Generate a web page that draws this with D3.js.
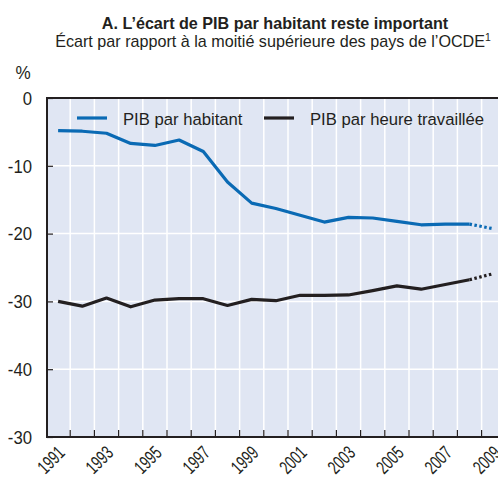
<!DOCTYPE html>
<html>
<head>
<meta charset="utf-8">
<script src="https://cdn.jsdelivr.net/npm/d3@7"></script>
<style>
  body { margin: 0; background: #fff; }
  text { font-family: "Liberation Sans", Arial, sans-serif; fill: #231f20; }
</style>
</head>
<body>
<div id="chart"></div>
<script>
// data
const years = [1991, 1992, 1993, 1994, 1995, 1996, 1997, 1998, 1999, 2000,
               2001, 2002, 2003, 2004, 2005, 2006, 2007, 2008, 2009];
const pibHabitant = [-4.8, -4.9, -5.2, -6.7, -7.0, -6.2, -7.9, -12.4, -15.5, -16.3,
                     -17.3, -18.3, -17.6, -17.7, -18.2, -18.7, -18.6, -18.6, -19.3];
const pibHeure = [-30.0, -30.7, -29.5, -30.8, -29.8, -29.6, -29.6, -30.6, -29.7, -29.9,
                  -29.1, -29.1, -29.05, -28.4, -27.7, -28.2, -27.5, -26.8, -25.9];
const lastActual = 2008; // 2009 drawn dotted (projection)
const yTicks = [0, -10, -20, -30, -40, -50];
const yTickLabels = ["0", "-10", "-20", "-30", "-40", "-30"];
const xLabelYears = [1991, 1993, 1995, 1997, 1999, 2001, 2003, 2005, 2007, 2009];
const seriesNames = ["PIB par habitant", "PIB par heure travaillée"];
const seriesColors = ["#0a6ab4", "#231f20"];

const width = 498, height = 479;
const plot = { left: 47, top: 98, right: 498, bottom: 437 };

const svg = d3.select("#chart").append("svg")
    .attr("width", width)
    .attr("height", height);

// condensed look: squeeze text horizontally
function place(sel, x, y, sx, extra) {
    return sel.attr("transform", "translate(" + x + "," + y + ")" + (extra || "") + " scale(" + sx + ",1)");
}

// titles
place(svg.append("text"), 275, 29, 0.95)
    .attr("text-anchor", "middle")
    .style("font-weight", "bold").style("font-size", "17px")
    .text("A. L\u2019écart de PIB par habitant reste important");
const sub = place(svg.append("text"), 273, 47, 0.95)
    .attr("text-anchor", "middle")
    .style("font-size", "17px")
    .text("Écart par rapport à la moitié supérieure des pays de l\u2019OCDE");
sub.append("tspan").attr("dy", -6).style("font-size", "11px").text("1");

place(svg.append("text"), 23, 79, 0.9)
    .attr("text-anchor", "middle")
    .style("font-size", "19px")
    .text("%");

// scales
const x = d3.scaleBand()
    .domain(years)
    .range([46, 46 + 24.2 * years.length]);
const xc = d => x(d) + x.bandwidth() / 2;
const y = d3.scaleLinear()
    .domain([-50, 0])
    .range([plot.bottom, plot.top]);

// background
svg.append("rect")
    .attr("x", plot.left).attr("y", plot.top)
    .attr("width", plot.right - plot.left)
    .attr("height", plot.bottom - plot.top)
    .attr("fill", "#e0e6f3");

// vertical grid lines at band edges
svg.selectAll(".vgrid")
    .data(years.slice(1).filter(d => x(d) < plot.right))
    .enter().append("line")
    .attr("x1", d => x(d)).attr("x2", d => x(d))
    .attr("y1", plot.top).attr("y2", plot.bottom)
    .attr("stroke", "#fff").attr("stroke-width", 1.5);
// horizontal grid lines
svg.selectAll(".hgrid")
    .data(yTicks.slice(1, -1))
    .enter().append("line")
    .attr("x1", plot.left).attr("x2", plot.right)
    .attr("y1", d => y(d)).attr("y2", d => y(d))
    .attr("stroke", "#fff").attr("stroke-width", 1.5);

// y axis ticks (inward)
const yAxis = svg.append("g")
    .attr("transform", "translate(" + plot.left + ",0)")
    .call(d3.axisRight(y).tickValues(yTicks).tickSize(6).tickFormat(""));
yAxis.select(".domain").remove();
yAxis.selectAll("line").attr("stroke", "#231f20").attr("stroke-width", 1.2);
svg.selectAll(".ylab")
    .data(yTicks)
    .enter().append("text")
    .each(function (d) { place(d3.select(this), 32, y(d), 0.88); })
    .attr("dy", "0.36em")
    .attr("text-anchor", "end")
    .style("font-size", "19px")
    .text((d, i) => yTickLabels[i]);

// x axis: ticks at band edges (inward), labels at band centres
svg.append("g")
    .attr("transform", "translate(0," + plot.bottom + ")")
    .selectAll("line")
    .data(years.slice(1).filter(d => x(d) < plot.right))
    .enter().append("line")
    .attr("x1", d => x(d)).attr("x2", d => x(d))
    .attr("y1", 0).attr("y2", -7)
    .attr("stroke", "#231f20").attr("stroke-width", 1.2);

svg.selectAll(".xlab")
    .data(xLabelYears)
    .enter().append("text")
    .each(function (d) { place(d3.select(this), xc(d) + 8, 454, 0.7, " rotate(-45)"); })
    .attr("text-anchor", "end")
    .style("font-size", "19px")
    .text(d => d);

// frame lines
svg.append("line")
    .attr("x1", plot.left).attr("x2", plot.right)
    .attr("y1", plot.top).attr("y2", plot.top)
    .attr("stroke", "#231f20").attr("stroke-width", 2);
svg.append("line")
    .attr("x1", plot.left).attr("x2", plot.right)
    .attr("y1", plot.bottom).attr("y2", plot.bottom)
    .attr("stroke", "#231f20").attr("stroke-width", 2);
svg.append("line")
    .attr("x1", plot.left).attr("x2", plot.left)
    .attr("y1", plot.top - 1).attr("y2", plot.bottom + 1)
    .attr("stroke", "#231f20").attr("stroke-width", 2);

// series lines
const line = d3.line()
    .x(d => xc(d.year))
    .y(d => y(d.value));

[pibHabitant, pibHeure].forEach((vals, i) => {
    const pts = years.map((yr, j) => ({ year: yr, value: vals[j] }));
    const solid = pts.filter(p => p.year <= lastActual);
    const dotted = pts.filter(p => p.year >= lastActual);
    svg.append("path")
        .datum(solid)
        .attr("d", line)
        .attr("fill", "none")
        .attr("stroke", seriesColors[i])
        .attr("stroke-width", 3.2)
        .attr("stroke-linejoin", "round");
    svg.append("path")
        .datum(dotted)
        .attr("d", line)
        .attr("fill", "none")
        .attr("stroke", seriesColors[i])
        .attr("stroke-width", 3.2)
        .attr("stroke-dasharray", "2.5,2.5");
});

// legend
const legendX = [77, 264];
const leg = svg.selectAll(".legend")
    .data(seriesNames)
    .enter().append("g")
    .attr("transform", (d, i) => "translate(" + legendX[i] + ",118)");
leg.append("line")
    .attr("x1", 0).attr("x2", 30)
    .attr("stroke", (d, i) => seriesColors[i])
    .attr("stroke-width", 3.2);
leg.append("text")
    .attr("transform", "translate(46,7) scale(0.98,1)")
    .style("font-size", "17px")
    .text(d => d);
</script>
</body>
</html>
